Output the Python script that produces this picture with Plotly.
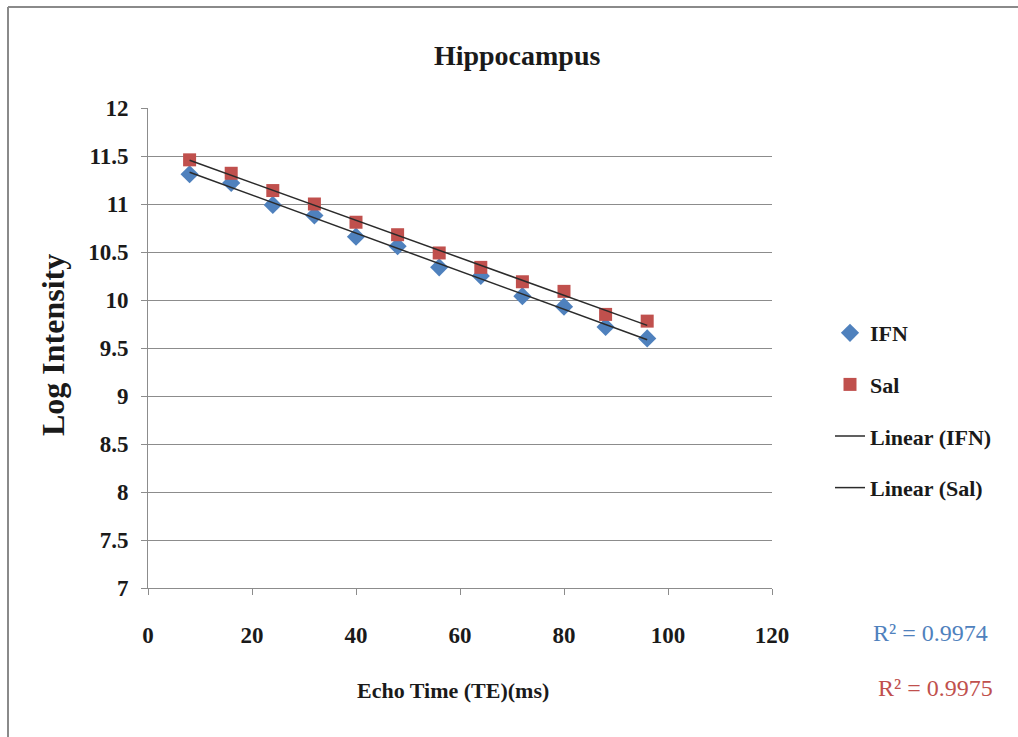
import numpy as np
import plotly.graph_objects as go

# Echo time (ms) and log signal intensity for each group
echo_time = [8, 16, 24, 32, 40, 48, 56, 64, 72, 80, 88, 96]
ifn_log = [11.31, 11.22, 10.99, 10.88, 10.66, 10.56, 10.34, 10.25, 10.04, 9.93, 9.72, 9.60]
sal_log = [11.46, 11.32, 11.14, 11.00, 10.81, 10.68, 10.49, 10.34, 10.19, 10.09, 9.85, 9.78]
r2_labels = ["R² = 0.9974", "R² = 0.9975"]
y_ticks = [7, 7.5, 8, 8.5, 9, 9.5, 10, 10.5, 11, 11.5, 12]
y_tick_text = ["7", "7.5", "8", "8.5", "9", "9.5", "10", "10.5", "11", "11.5", "12"]
x_ticks = [0, 20, 40, 60, 80, 100, 120]
x_tick_text = ["0", "20", "40", "60", "80", "100", "120"]

BLUE = "#4F81BD"
RED = "#C0504D"
SERIF = "Liberation Serif, Times New Roman, serif"

W, H = 1018, 737
L, R, T, B = 148, 772, 108, 588  # plot area in pixels


def px(xp):
    return (xp - L) / (R - L)


def py(yp):
    return (B - yp) / (B - T)


def bold(s):
    return f"<b>{s}</b>"


x = np.array(echo_time, dtype=float)
fit_ifn = np.polyfit(x, ifn_log, 1)
fit_sal = np.polyfit(x, sal_log, 1)
x_fit = np.array([x.min(), x.max()])

fig = go.Figure()
fig.add_trace(go.Scatter(
    x=echo_time, y=ifn_log, mode="markers", name=bold("IFN"), legendgroup="a",
    marker=dict(symbol="diamond", size=14, color=BLUE),
))
fig.add_trace(go.Scatter(
    x=echo_time, y=sal_log, mode="markers", name=bold("Sal"), legendgroup="b",
    marker=dict(symbol="square", size=13, color=RED),
))
fig.add_trace(go.Scatter(
    x=x_fit, y=np.polyval(fit_ifn, x_fit), mode="lines", name=bold("Linear (IFN)"),
    legendgroup="c", line=dict(color="#2b2b2b", width=1.5),
))
fig.add_trace(go.Scatter(
    x=x_fit, y=np.polyval(fit_sal, x_fit), mode="lines", name=bold("Linear (Sal)"),
    legendgroup="d", line=dict(color="#2b2b2b", width=1.5),
))

axis_font = dict(family=SERIF, size=23, color="#1a1a1a")

fig.update_layout(
    width=W, height=H,
    margin=dict(l=L, r=W - R, t=T, b=H - B),
    paper_bgcolor="white", plot_bgcolor="white",
    font=dict(family=SERIF, color="#1a1a1a"),
    title=dict(text=bold("Hippocampus"), x=0.508, xanchor="center",
               y=1 - 55 / H, yanchor="middle",
               font=dict(family=SERIF, size=28, color="#1a1a1a")),
    xaxis=dict(range=[0, 120], tickvals=x_ticks,
               ticktext=[bold(t) for t in x_tick_text],
               ticks="outside", ticklen=6,
               tickcolor="#8c8c8c", showline=True, linecolor="#8c8c8c",
               linewidth=1, showgrid=False, zeroline=False,
               tickfont=axis_font, ticklabelstandoff=20),
    yaxis=dict(range=[7, 12], tickvals=y_ticks,
               ticktext=[bold(t) for t in y_tick_text],
               ticks="outside", ticklen=6,
               tickcolor="#8c8c8c", showline=True, linecolor="#8c8c8c",
               linewidth=1, showgrid=True, gridcolor="#8c8c8c", gridwidth=1,
               zeroline=False, tickfont=axis_font, ticklabelstandoff=8),
    legend=dict(x=px(830), y=py(312), xanchor="left", yanchor="top",
                font=dict(family=SERIF, size=22, color="#1a1a1a"),
                tracegroupgap=20, bgcolor="rgba(0,0,0,0)"),
    showlegend=True,
)

annotations = [
    dict(text=bold("Log Intensity"), x=px(53), y=py(345), textangle=-90,
         font=dict(family=SERIF, size=32, color="#1a1a1a")),
    dict(text=bold("Echo Time (TE)(ms)"), x=px(453), y=py(690),
         font=dict(family=SERIF, size=22, color="#1a1a1a")),
    dict(text=r2_labels[0], x=px(930), y=py(633),
         font=dict(family=SERIF, size=24, color=BLUE)),
    dict(text=r2_labels[1], x=px(935), y=py(688),
         font=dict(family=SERIF, size=24, color=RED)),
]
for a in annotations:
    a.update(xref="paper", yref="paper", showarrow=False,
             xanchor="center", yanchor="middle")
fig.update_layout(annotations=annotations)

# chart frame along top and left edges
fig.add_shape(type="line", xref="paper", yref="paper", x0=px(8), x1=px(1018),
              y0=py(7), y1=py(7), line=dict(color="#8a8a8a", width=2))
fig.add_shape(type="line", xref="paper", yref="paper", x0=px(8), x1=px(8),
              y0=py(7), y1=py(737), line=dict(color="#8a8a8a", width=2))

fig.write_html("out.html")
